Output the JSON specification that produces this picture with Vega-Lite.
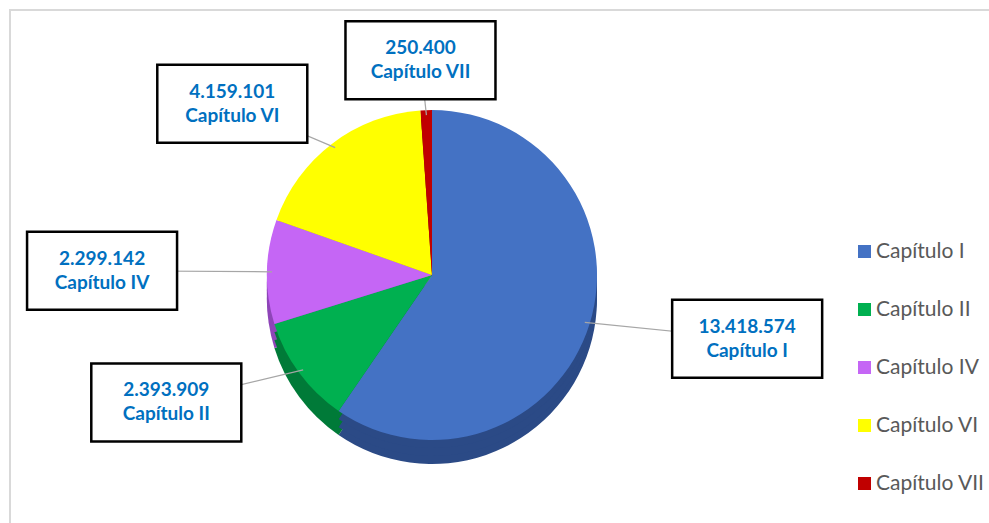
{
  "$schema": "https://vega.github.io/schema/vega-lite/v6.json",
  "width": 985,
  "height": 520,
  "autosize": "none",
  "padding": {"left": 10, "top": 10, "right": 0, "bottom": 0},
  "background": "white",
  "config": {
    "view": {"stroke": "#d9d9d9", "strokeWidth": 2},
    "font": "Lato",
    "locale": {"number": {"decimal": ",", "thousands": ".", "grouping": [3], "currency": ["", " €"]}}
  },
  "data": {
    "values": [
      {"cat": "Capítulo I", "value": 13418574},
      {"cat": "Capítulo II", "value": 2393909},
      {"cat": "Capítulo IV", "value": 2299142},
      {"cat": "Capítulo VI", "value": 4159101},
      {"cat": "Capítulo VII", "value": 250400}
    ]
  },
  "transform": [
    {"joinaggregate": [{"op": "sum", "field": "value", "as": "total"}]},
    {"window": [{"op": "sum", "field": "value", "as": "cum"}], "sort": [{"field": "cat", "order": "ascending"}], "frame": [null, 0]},
    {"calculate": "(datum.cum - datum.value / 2) / datum.total * 2 * PI", "as": "mid"},
    {"calculate": "330 * sin(datum.mid)", "as": "lx"},
    {"calculate": "215 * cos(datum.mid)", "as": "ly"},
    {"calculate": "160 * sin(datum.mid)", "as": "ex"},
    {"calculate": "160 * cos(datum.mid)", "as": "ey"}
  ],
  "layer": [
    {
      "mark": {"type": "arc", "outerRadius": 165},
      "encoding": {
        "x": {"datum": 0, "type": "quantitative", "scale": {"domain": [-422, 563], "nice": false, "zero": false}, "axis": null},
        "y": {"datum": -24, "type": "quantitative", "scale": {"domain": [-255, 265], "nice": false, "zero": false}, "axis": null},
        "theta": {"field": "value", "type": "quantitative", "stack": true},
        "fill": {"condition": [
          {"test": "datum.cat === 'Capítulo I'", "value": "#2B4A86"},
          {"test": "datum.cat === 'Capítulo II'", "value": "#007A38"},
          {"test": "datum.cat === 'Capítulo IV'", "value": "#8E45B8"},
          {"test": "datum.cat === 'Capítulo VI'", "value": "#B3B300"}
        ], "value": "#7A0000"},
        "order": {"field": "cat", "sort": "ascending"}
      }
    },
    {
      "mark": {"type": "arc", "outerRadius": 165},
      "encoding": {
        "x": {"datum": 0, "type": "quantitative"},
        "y": {"datum": -16, "type": "quantitative"},
        "theta": {"field": "value", "type": "quantitative", "stack": true},
        "fill": {"condition": [
          {"test": "datum.cat === 'Capítulo I'", "value": "#2B4A86"},
          {"test": "datum.cat === 'Capítulo II'", "value": "#007A38"},
          {"test": "datum.cat === 'Capítulo IV'", "value": "#8E45B8"},
          {"test": "datum.cat === 'Capítulo VI'", "value": "#B3B300"}
        ], "value": "#7A0000"},
        "order": {"field": "cat", "sort": "ascending"}
      }
    },
    {
      "mark": {"type": "arc", "outerRadius": 165},
      "encoding": {
        "x": {"datum": 0, "type": "quantitative"},
        "y": {"datum": -8, "type": "quantitative"},
        "theta": {"field": "value", "type": "quantitative", "stack": true},
        "fill": {"condition": [
          {"test": "datum.cat === 'Capítulo I'", "value": "#2B4A86"},
          {"test": "datum.cat === 'Capítulo II'", "value": "#007A38"},
          {"test": "datum.cat === 'Capítulo IV'", "value": "#8E45B8"},
          {"test": "datum.cat === 'Capítulo VI'", "value": "#B3B300"}
        ], "value": "#7A0000"},
        "order": {"field": "cat", "sort": "ascending"}
      }
    },
    {
      "mark": {"type": "arc", "outerRadius": 165},
      "encoding": {
        "x": {"datum": 0, "type": "quantitative"},
        "y": {"datum": 0, "type": "quantitative"},
        "theta": {"field": "value", "type": "quantitative", "stack": true},
        "color": {
          "field": "cat",
          "type": "nominal",
          "scale": {"domain": ["Capítulo I", "Capítulo II", "Capítulo IV", "Capítulo VI", "Capítulo VII"], "range": ["#4472C4", "#00B050", "#C566F5", "#FFFF00", "#C00000"]},
          "legend": {
            "title": null,
            "orient": "none",
            "legendX": 844,
            "legendY": 231,
            "symbolType": "square",
            "symbolSize": 170,
            "symbolStrokeWidth": 0,
            "labelFont": "Lato",
            "labelFontSize": 21,
            "labelColor": "#595959",
            "labelOffset": 1,
            "rowPadding": 36,
            "padding": 0
          }
        },
        "order": {"field": "cat", "sort": "ascending"}
      }
    },
    {
      "mark": {"type": "rule", "color": "#a6a6a6", "strokeWidth": 1.2},
      "encoding": {
        "x": {"field": "ex", "type": "quantitative"},
        "y": {"field": "ey", "type": "quantitative"},
        "x2": {"field": "lx"},
        "y2": {"field": "ly"}
      }
    },
    {
      "mark": {"type": "point", "shape": "M-1,-0.52H1V0.52H-1Z", "filled": true, "fill": "white", "stroke": "black", "strokeWidth": 2.5, "opacity": 1, "size": 22500},
      "encoding": {
        "x": {"field": "lx", "type": "quantitative"},
        "y": {"field": "ly", "type": "quantitative"}
      }
    },
    {
      "mark": {"type": "text", "font": "Lato", "fontWeight": "bold", "fontSize": 19, "color": "#0070C0", "dy": -12},
      "encoding": {
        "x": {"field": "lx", "type": "quantitative"},
        "y": {"field": "ly", "type": "quantitative"},
        "text": {"field": "value", "type": "quantitative", "format": ",d"}
      }
    },
    {
      "mark": {"type": "text", "font": "Lato", "fontWeight": "bold", "fontSize": 19, "color": "#0070C0", "dy": 12},
      "encoding": {
        "x": {"field": "lx", "type": "quantitative"},
        "y": {"field": "ly", "type": "quantitative"},
        "text": {"field": "cat", "type": "nominal"}
      }
    }
  ]
}
